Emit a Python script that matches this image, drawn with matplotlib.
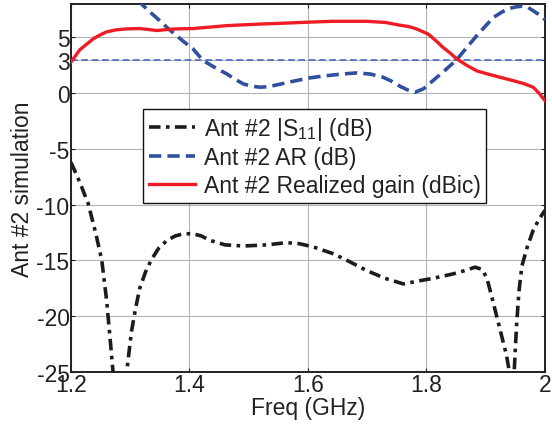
import matplotlib
matplotlib.use("Agg")
import matplotlib.pyplot as plt

plt.rcParams["font.family"] = ["Liberation Sans", "DejaVu Sans"]
plt.rcParams["mathtext.fontset"] = "custom"
plt.rcParams["mathtext.rm"] = "Liberation Sans"
plt.rcParams["axes.unicode_minus"] = False

# |S11| (dB); the two resonances dip below the axis floor
s11_f = [1.200, 1.215, 1.229, 1.242, 1.252, 1.260, 1.266, 1.271, 1.282, 1.294, 1.302, 1.309,
         1.316, 1.326, 1.336, 1.348, 1.362, 1.376, 1.390, 1.406, 1.420, 1.435, 1.460, 1.491,
         1.530, 1.564, 1.586, 1.610, 1.643, 1.670, 1.699, 1.730, 1.761, 1.790, 1.811, 1.845,
         1.865, 1.882, 1.894, 1.902, 1.910, 1.918, 1.927, 1.935, 1.940, 1.944, 1.948, 1.952,
         1.956, 1.961, 1.970, 1.980, 1.990, 2.000]
s11_db = [-6.2, -8.0, -9.9, -12.6, -15.0, -18.5, -22.0, -25.0, -32.0, -25.0, -21.4, -19.3,
          -17.5, -16.0, -14.9, -13.9, -13.2, -12.8, -12.6, -12.6, -12.8, -13.2, -13.6, -13.7,
          -13.6, -13.4, -13.5, -13.8, -14.4, -15.1, -15.9, -16.6, -17.1, -16.8, -16.6, -16.2,
          -15.9, -15.6, -15.8, -16.6, -18.2, -19.9, -21.8, -23.5, -25.0, -30.0, -25.0, -20.8,
          -17.8, -15.5, -13.8, -12.3, -11.3, -10.5]

# axial ratio (dB)
ar_f = [1.300, 1.319, 1.335, 1.350, 1.364, 1.378, 1.392, 1.406, 1.423, 1.443, 1.463, 1.477,
        1.491, 1.505, 1.519, 1.533, 1.547, 1.573, 1.600, 1.620, 1.643, 1.662, 1.682, 1.705,
        1.727, 1.742, 1.755, 1.768, 1.781, 1.795, 1.811, 1.830, 1.851, 1.868, 1.885, 1.900,
        1.913, 1.928, 1.941, 1.952, 1.961, 1.971, 1.980, 1.990, 2.000]
ar_db = [9.6, 8.0, 7.2, 6.5, 5.8, 5.17, 4.55, 3.97, 2.93, 2.3, 1.73, 1.25,
         0.83, 0.63, 0.54, 0.58, 0.74, 1.05, 1.35, 1.5, 1.64, 1.74, 1.82, 1.72,
         1.43, 1.05, 0.63, 0.3, 0.09, 0.4, 1.13, 2.0, 3.0, 4.1, 5.17, 6.05,
         6.8, 7.3, 7.62, 7.75, 7.8, 7.7, 7.4, 7.05, 6.6]

# realized gain (dBic)
gain_f = [1.200, 1.215, 1.238, 1.250, 1.260, 1.276, 1.294, 1.316, 1.330, 1.345, 1.360, 1.378,
          1.406, 1.435, 1.463, 1.490, 1.519, 1.560, 1.600, 1.642, 1.699, 1.730, 1.755, 1.770,
          1.783, 1.803, 1.815, 1.828, 1.840, 1.851, 1.868, 1.885, 1.905, 1.924, 1.946, 1.965,
          1.980, 1.990, 2.000]
gain_db = [2.8, 3.9, 4.9, 5.25, 5.5, 5.68, 5.77, 5.8, 5.72, 5.62, 5.7, 5.77,
           5.8, 5.93, 6.06, 6.13, 6.2, 6.28, 6.37, 6.45, 6.45, 6.35, 6.1, 5.98,
           5.77, 5.3, 4.75, 4.1, 3.6, 3.08, 2.5, 2.0, 1.7, 1.43, 1.13, 0.85,
           0.54, 0.0, -0.66]

ar_limit = 3
xticks = [1.2, 1.4, 1.6, 1.8, 2.0]
xtick_labels = ["1.2", "1.4", "1.6", "1.8", "2"]
yticks = [-25, -20, -15, -10, -5, 0, 3, 5]

fig = plt.figure(figsize=(5.52, 4.35), dpi=100)
ax = fig.add_axes([0.1286, 0.1425, 0.8587, 0.846])

ax.grid(True, color="#b4b4b4", linewidth=0.8)
ax.set_axisbelow(True)

ax.axhline(ar_limit, color="#4d6cc0", linewidth=1.2, linestyle=(0, (4, 2.2)), zorder=2)

ax.plot(s11_f, s11_db, color="#1c1c1c", linewidth=2.6, dashes=(3.2, 1.5, 1.0, 1.5),
        label=r"Ant #2 |S$_{\mathregular{11}}$| (dB)", zorder=3)
ax.plot(ar_f, ar_db, color="#2f4f9f", linewidth=2.6, dashes=(3.4, 1.7),
        label="Ant #2 AR (dB)", zorder=3)
ax.plot(gain_f, gain_db, color="#ee1d25", linewidth=2.4,
        label="Ant #2 Realized gain (dBic)", zorder=4)

ax.set_xlim(1.2, 2.0)
ax.set_ylim(-25, 8)
ax.set_xticks(xticks)
ax.set_xticklabels(xtick_labels)
ax.set_yticks(yticks)
ax.tick_params(direction="in", length=3, width=0.8, top=True, right=True,
               labelsize=16.5, colors="#222222", pad=1)
for sp in ax.spines.values():
    sp.set_linewidth(1.4)
    sp.set_color("#222222")

ax.set_xlabel("Freq (GHz)", fontsize=16.5, color="#222222", labelpad=0)
ax.set_ylabel("Ant #2 simulation", fontsize=16.5, color="#222222", labelpad=2)

leg = ax.legend(loc="upper left", bbox_to_anchor=(0.152, 0.715), borderaxespad=0,
                fontsize=16.5, frameon=True, fancybox=False, handlelength=2.0,
                handletextpad=0.4, borderpad=0.25, labelspacing=0.2)
leg.get_frame().set_edgecolor("#111111")
leg.get_frame().set_linewidth(1.0)
leg.get_frame().set_alpha(1)
for t in leg.get_texts():
    t.set_color("#222222")

fig.savefig("out.png", dpi=100)
